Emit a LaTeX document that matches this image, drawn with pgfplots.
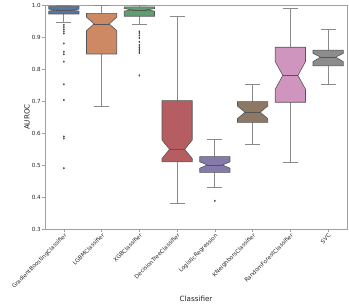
\documentclass[border=0pt]{standalone}
\usepackage{pgfplots}
\pgfplotsset{compat=1.18}
\usepackage{fontspec}
\setmainfont{DejaVu Sans}
\definecolor{cGB}{HTML}{5875A4}
\definecolor{cLG}{HTML}{CC8963}
\definecolor{cXG}{HTML}{5F9E6E}
\definecolor{cDT}{HTML}{B55D60}
\definecolor{cLR}{HTML}{857AAB}
\definecolor{cKN}{HTML}{8D7866}
\definecolor{cRF}{HTML}{D095BF}
\definecolor{cSV}{HTML}{8C8C8C}
\definecolor{edge}{HTML}{555555}
\definecolor{whisk}{HTML}{8A8A8A}
\definecolor{frame}{HTML}{A0A0A0}
\begin{document}
\begin{tikzpicture}
\useasboundingbox (-45pt,-77pt) rectangle (304pt,229pt);
\begin{axis}[
  scale only axis, width=302pt, height=224pt,
  xmin=-0.5, xmax=7.5, ymin=0.3, ymax=1.0,
  xtick={0,1,2,3,4,5,6,7},
  xticklabels={GradientBoostingClassifier,LGBMClassifier,XGBClassifier,DecisionTreeClassifier,LogisticRegression,KNeighborsClassifier,RandomForestClassifier,SVC},
  ytick={0.3,0.4,0.5,0.6,0.7,0.8,0.9,1.0},
  yticklabel style={/pgf/number format/fixed, /pgf/number format/fixed zerofill, /pgf/number format/precision=1, /pgf/number format/assume math mode=true},
  xticklabel style={rotate=45, anchor=north east, inner sep=1pt, font=\fontsize{5.6}{6}\selectfont, text=black!85},
  yticklabel style={font=\fontsize{5.6}{6}\selectfont, inner sep=1.5pt, text=black!85},
  tick align=outside, xtick pos=bottom, ytick pos=left,
  major tick length=2.5pt,
  tick style={frame, line width=0.5pt},
  axis line style={frame, line width=0.8pt},
  xlabel={Classifier}, ylabel={AUROC},
  xlabel style={font=\fontsize{7.2}{8}\selectfont, text=black!85, at={(axis description cs:0.5,-0.3125)}, anchor=center},
  ylabel style={font=\fontsize{7.2}{8}\selectfont, text=black!85, at={(axis description cs:-0.06,0.5)}, anchor=center},
  clip=false,
]
\pgfplotsset{wh/.style={whisk, line width=0.8pt, forget plot}, bx/.style={draw=edge, line width=0.6pt, forget plot}, md/.style={edge, line width=0.6pt, forget plot}, fl/.style={only marks, mark=diamond*, mark size=0.8pt, color=black!75, forget plot}}
% GB x=0
\addplot[wh] coordinates {(0,0.945) (0,0.972)};
\addplot[wh] coordinates {(0,0.996) (0,1.0)};
\addplot[wh] coordinates {(-0.2,0.945) (0.2,0.945)};
\addplot[wh] coordinates {(-0.2,1.0) (0.2,1.0)};
\addplot[bx, fill=cGB] coordinates {(-0.4,0.972) (-0.4,0.981) (-0.2,0.984) (-0.4,0.987) (-0.4,0.996) (0.4,0.996) (0.4,0.987) (0.2,0.984) (0.4,0.981) (0.4,0.972)} --cycle;
\addplot[md] coordinates {(-0.2,0.984) (0.2,0.984)};
\addplot[fl] coordinates {(0,0.938) (0,0.931) (0,0.924) (0,0.917) (0,0.911) (0,0.880) (0,0.854) (0,0.846) (0,0.823) (0,0.752) (0,0.703) (0,0.589) (0,0.583) (0,0.490)};
% LGBM x=1
\addplot[wh] coordinates {(1,0.684) (1,0.847)};
\addplot[wh] coordinates {(1,0.974) (1,1.0)};
\addplot[wh] coordinates {(0.8,0.684) (1.2,0.684)};
\addplot[wh] coordinates {(0.8,1.0) (1.2,1.0)};
\addplot[bx, fill=cLG] coordinates {(0.6,0.847) (0.6,0.920) (0.8,0.941) (0.6,0.962) (0.6,0.974) (1.4,0.974) (1.4,0.962) (1.2,0.941) (1.4,0.920) (1.4,0.847)} --cycle;
\addplot[md] coordinates {(0.8,0.941) (1.2,0.941)};
% XGB x=2
\addplot[wh] coordinates {(2,0.938) (2,0.965)};
\addplot[wh] coordinates {(2,0.994) (2,1.0)};
\addplot[wh] coordinates {(1.8,0.938) (2.2,0.938)};
\addplot[wh] coordinates {(1.8,1.0) (2.2,1.0)};
\addplot[bx, fill=cXG] coordinates {(1.6,0.965) (1.6,0.981) (1.8,0.985) (1.6,0.989) (1.6,0.994) (2.4,0.994) (2.4,0.989) (2.2,0.985) (2.4,0.981) (2.4,0.965)} --cycle;
\addplot[md] coordinates {(1.8,0.985) (2.2,0.985)};
\addplot[fl] coordinates {(2,0.917) (2,0.912) (2,0.905) (2,0.897) (2,0.885) (2,0.875) (2,0.868) (2,0.862) (2,0.856) (2,0.850) (2,0.780)};
% DT x=3
\addplot[wh] coordinates {(3,0.380) (3,0.510)};
\addplot[wh] coordinates {(3,0.701) (3,0.963)};
\addplot[wh] coordinates {(2.8,0.380) (3.2,0.380)};
\addplot[wh] coordinates {(2.8,0.963) (3.2,0.963)};
\addplot[bx, fill=cDT] coordinates {(2.6,0.510) (2.6,0.520) (2.8,0.549) (2.6,0.578) (2.6,0.701) (3.4,0.701) (3.4,0.578) (3.2,0.549) (3.4,0.520) (3.4,0.510)} --cycle;
\addplot[md] coordinates {(2.8,0.549) (3.2,0.549)};
% LR x=4
\addplot[wh] coordinates {(4,0.430) (4,0.477)};
\addplot[wh] coordinates {(4,0.526) (4,0.580)};
\addplot[wh] coordinates {(3.8,0.430) (4.2,0.430)};
\addplot[wh] coordinates {(3.8,0.580) (4.2,0.580)};
\addplot[bx, fill=cLR] coordinates {(3.6,0.477) (3.6,0.490) (3.8,0.500) (3.6,0.510) (3.6,0.526) (4.4,0.526) (4.4,0.510) (4.2,0.500) (4.4,0.490) (4.4,0.477)} --cycle;
\addplot[md] coordinates {(3.8,0.500) (4.2,0.500)};
\addplot[fl] coordinates {(4,0.388)};
% KNN x=5
\addplot[wh] coordinates {(5,0.565) (5,0.633)};
\addplot[wh] coordinates {(5,0.698) (5,0.753)};
\addplot[wh] coordinates {(4.8,0.565) (5.2,0.565)};
\addplot[wh] coordinates {(4.8,0.753) (5.2,0.753)};
\addplot[bx, fill=cKN] coordinates {(4.6,0.633) (4.6,0.645) (4.8,0.665) (4.6,0.684) (4.6,0.698) (5.4,0.698) (5.4,0.684) (5.2,0.665) (5.4,0.645) (5.4,0.633)} --cycle;
\addplot[md] coordinates {(4.8,0.665) (5.2,0.665)};
% RF x=6
\addplot[wh] coordinates {(6,0.507) (6,0.696)};
\addplot[wh] coordinates {(6,0.868) (6,0.988)};
\addplot[wh] coordinates {(5.8,0.507) (6.2,0.507)};
\addplot[wh] coordinates {(5.8,0.988) (6.2,0.988)};
\addplot[bx, fill=cRF] coordinates {(5.6,0.696) (5.6,0.737) (5.8,0.780) (5.6,0.823) (5.6,0.868) (6.4,0.868) (6.4,0.823) (6.2,0.780) (6.4,0.737) (6.4,0.696)} --cycle;
\addplot[md] coordinates {(5.8,0.780) (6.2,0.780)};
% SVC x=7
\addplot[wh] coordinates {(7,0.753) (7,0.810)};
\addplot[wh] coordinates {(7,0.859) (7,0.924)};
\addplot[wh] coordinates {(6.8,0.753) (7.2,0.753)};
\addplot[wh] coordinates {(6.8,0.924) (7.2,0.924)};
\addplot[bx, fill=cSV] coordinates {(6.6,0.810) (6.6,0.823) (6.8,0.837) (6.6,0.849) (6.6,0.859) (7.4,0.859) (7.4,0.849) (7.2,0.837) (7.4,0.823) (7.4,0.810)} --cycle;
\addplot[md] coordinates {(6.8,0.837) (7.2,0.837)};
\end{axis}
\end{tikzpicture}
\end{document}
